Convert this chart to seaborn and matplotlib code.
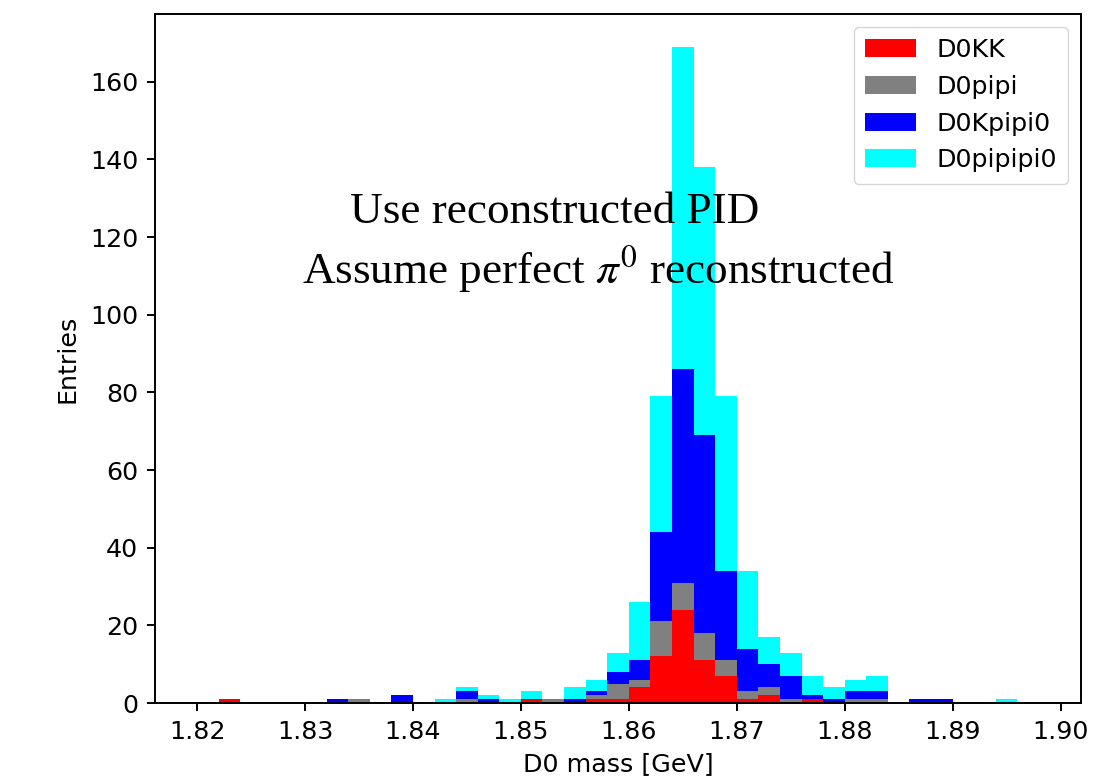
import numpy as np
import pandas as pd
import matplotlib
matplotlib.use("Agg")
import matplotlib.pyplot as plt
from matplotlib.patches import Patch
import seaborn as sns

# Histogram binning of the D0 candidate mass [GeV]
bin_width = 0.002
bin_edges = np.round(np.arange(1.820, 1.898 + 1e-9, bin_width), 3)
bin_centers = bin_edges[:-1] + bin_width / 2

channels = ["D0KK", "D0pipi", "D0Kpipi0", "D0pipipi0"]
colors = ["red", "grey", "blue", "cyan"]

# Entries per bin (39 bins from 1.820 to 1.898)
d0kk = [0, 1, 0, 0, 0, 0, 0, 0, 0, 0,
        0, 0, 0, 0, 0, 1, 0, 0, 1, 1,
        4, 12, 24, 11, 7, 1, 2, 0, 1, 0,
        0, 0, 0, 0, 0, 0, 0, 0, 0]
d0pipi = [0, 0, 0, 0, 0, 0, 0, 1, 0, 0,
          0, 0, 1, 0, 0, 0, 1, 0, 1, 4,
          2, 9, 7, 7, 4, 2, 2, 1, 0, 0,
          1, 1, 0, 0, 0, 0, 0, 0, 0]
d0kpipi0 = [0, 0, 0, 0, 0, 0, 1, 0, 0, 2,
            0, 0, 2, 1, 0, 0, 0, 1, 1, 3,
            5, 23, 55, 51, 23, 11, 6, 6, 1, 1,
            2, 2, 0, 1, 1, 0, 0, 0, 0]
d0pipipi0 = [0, 0, 0, 0, 0, 0, 0, 0, 0, 0,
             0, 1, 1, 1, 1, 2, 0, 3, 3, 5,
             15, 35, 83, 69, 45, 20, 7, 6, 5, 3,
             3, 4, 0, 0, 0, 0, 0, 1, 0]

counts = {"D0KK": d0kk, "D0pipi": d0pipi,
          "D0Kpipi0": d0kpipi0, "D0pipipi0": d0pipipi0}

df = pd.concat(
    [pd.DataFrame({"mass": bin_centers, "entries": counts[c], "channel": c})
     for c in channels],
    ignore_index=True,
)

palette = dict(zip(channels, colors))

fig = plt.figure(figsize=(11.17, 7.82), dpi=100)
ax = fig.add_axes([0.1388, 0.1010, 0.8290, 0.8811])

# seaborn stacks the last hue level at the bottom, so reverse the order
sns.histplot(
    data=df, x="mass", weights="entries", hue="channel",
    hue_order=channels[::-1], palette=palette, bins=list(bin_edges),
    multiple="stack", element="bars", linewidth=0, alpha=1.0,
    legend=False, ax=ax,
)

fs = 18.3
ax.set_xticks(np.round(np.arange(1.82, 1.901, 0.01), 2))
ax.set_xticklabels([f"{t:.2f}" for t in np.arange(1.82, 1.901, 0.01)])
ax.set_yticks(np.arange(0, 161, 20))
ax.tick_params(labelsize=fs, length=6, width=1.4, direction="out", pad=6)
for s in ax.spines.values():
    s.set_linewidth(1.4)
    s.set_color("black")

ax.set_xlabel("D0 mass [GeV]", fontsize=fs, labelpad=6)
ax.set_ylabel("Entries", fontsize=fs, labelpad=8)

handles = [Patch(facecolor=palette[c], label=c) for c in channels]
ax.legend(handles=handles, loc="upper right", fontsize=fs,
          handlelength=2.0, framealpha=0.8, borderpad=0.45)

plt.rcParams["mathtext.fontset"] = "stix"
ax.text(1.8342, 123.5, "Use reconstructed PID", fontsize=32.5,
        family="Liberation Serif", ha="left", va="baseline")
ax.text(1.8297, 108.0, r"Assume perfect $\pi^0$ reconstructed", fontsize=32.5,
        family="Liberation Serif", ha="left", va="baseline")

fig.savefig("out.png", dpi=100)
